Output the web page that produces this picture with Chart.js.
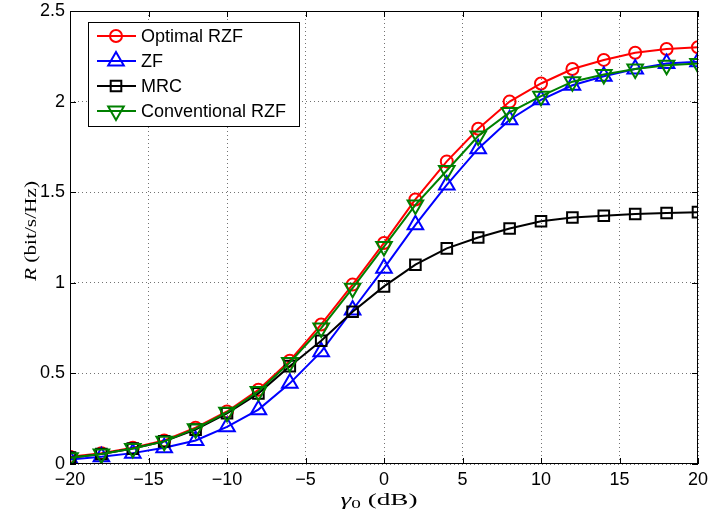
<!DOCTYPE html>
<html>
<head>
<meta charset="utf-8">
<script src="https://cdn.jsdelivr.net/npm/chart.js@4"></script>
<style>
  html, body { margin: 0; padding: 0; background: #fff; }
  #wrap { width: 709px; height: 516px; }
</style>
</head>
<body>
<div id="wrap"><canvas id="chart" width="709" height="516"></canvas></div>
<script>
const gamma = [-20, -18, -16, -14, -12, -10, -8, -6, -4, -2, 0, 2, 4, 6, 8, 10, 12, 14, 16, 18, 20];
const optimalRzf = [0.04, 0.06, 0.09, 0.13, 0.20, 0.29, 0.41, 0.57, 0.77, 0.99, 1.22, 1.46, 1.67, 1.85, 2.00, 2.10, 2.18, 2.23, 2.27, 2.29, 2.30];
const zf = [0.025, 0.04, 0.06, 0.09, 0.13, 0.205, 0.30, 0.445, 0.62, 0.85, 1.08, 1.32, 1.54, 1.74, 1.90, 2.01, 2.09, 2.14, 2.18, 2.21, 2.22];
const mrc = [0.035, 0.055, 0.085, 0.125, 0.19, 0.28, 0.39, 0.54, 0.68, 0.84, 0.98, 1.10, 1.19, 1.25, 1.30, 1.34, 1.36, 1.37, 1.38, 1.385, 1.39];
const convRzf = [0.035, 0.055, 0.085, 0.125, 0.195, 0.285, 0.40, 0.56, 0.75, 0.97, 1.20, 1.43, 1.62, 1.81, 1.94, 2.03, 2.11, 2.15, 2.18, 2.20, 2.21];

const seriesNames = ['Optimal RZF', 'ZF', 'MRC', 'Conventional RZF'];
const xTicks = [-20, -15, -10, -5, 0, 5, 10, 15, 20];
const yTicks = [0, 0.5, 1, 1.5, 2, 2.5];

const pts = (ys) => ys.map((v, i) => ({ x: gamma[i], y: v }));

const styles = [
  { color: '#ff0000', pointStyle: 'circle', radius: 6, rotation: 0, order: 4 },
  { color: '#0000ff', pointStyle: 'triangle', radius: 9, rotation: 0, order: 3 },
  { color: '#000000', pointStyle: 'rect', radius: 7.5, rotation: 0, order: 2 },
  { color: '#008000', pointStyle: 'triangle', radius: 9, rotation: 180, order: 1 }
];

const allSeries = [optimalRzf, zf, mrc, convRzf];

const datasets = allSeries.map((ys, i) => ({
  label: seriesNames[i],
  data: pts(ys),
  borderColor: styles[i].color,
  backgroundColor: 'rgba(0,0,0,0)',
  borderWidth: 2,
  pointStyle: styles[i].pointStyle,
  pointRadius: styles[i].radius,
  pointRotation: styles[i].rotation,
  pointBorderWidth: 2,
  pointBorderColor: styles[i].color,
  pointBackgroundColor: 'rgba(0,0,0,0)',
  tension: 0,
  order: styles[i].order
}));

const tickFont = { family: 'Liberation Sans', size: 18 };

// no extra room for label overhang, the layout padding decides the plot box
const noOverhang = (s) => {
  s.paddingTop = 0; s.paddingBottom = 0; s.paddingLeft = 0; s.paddingRight = 0;
};

// frame, inward ticks, axis titles and legend
const decor = {
  id: 'decor',
  afterDatasetsDraw(chart) {
    const { ctx, chartArea: a, scales: { x, y } } = chart;
    ctx.save();
    ctx.strokeStyle = '#000';
    ctx.lineWidth = 1;
    ctx.strokeRect(Math.round(a.left) + 0.5, Math.round(a.top) + 0.5, Math.round(a.right - a.left) - 1, Math.round(a.bottom - a.top) - 1);
    const t = 6;
    ctx.beginPath();
    xTicks.forEach(v => {
      const px = Math.round(x.getPixelForValue(v)) + 0.5;
      ctx.moveTo(px, a.bottom); ctx.lineTo(px, a.bottom - t);
      ctx.moveTo(px, a.top); ctx.lineTo(px, a.top + t);
    });
    yTicks.forEach(v => {
      const py = Math.round(y.getPixelForValue(v)) + 0.5;
      ctx.moveTo(a.left, py); ctx.lineTo(a.left + t, py);
      ctx.moveTo(a.right, py); ctx.lineTo(a.right - t, py);
    });
    ctx.stroke();
    ctx.restore();
  },
  afterDraw(chart) {
    const { ctx } = chart;
    ctx.save();
    ctx.fillStyle = '#000';
    ctx.textBaseline = 'alphabetic';

    // y title: R (bit/s/Hz)
    ctx.save();
    ctx.translate(36, 231);
    ctx.rotate(-Math.PI / 2);
    const fy = 17;
    ctx.font = 'italic ' + fy + 'px "Liberation Serif"';
    const wR = ctx.measureText('R').width;
    ctx.font = fy + 'px "Liberation Serif"';
    const wRest = ctx.measureText(' (bit/s/Hz)').width;
    const sy = 100 / (wR + wRest);
    ctx.scale(sy, 1);
    const y0 = -(wR + wRest) / 2;
    ctx.font = 'italic ' + fy + 'px "Liberation Serif"';
    ctx.fillText('R', y0, 0);
    ctx.font = fy + 'px "Liberation Serif"';
    ctx.fillText(' (bit/s/Hz)', y0 + wR, 0);
    ctx.restore();

    // x title: γ0 (dB)
    ctx.save();
    const fx = 17;
    ctx.font = 'italic ' + fx + 'px "Liberation Serif"';
    const wg = ctx.measureText('\u03b3').width;
    ctx.font = Math.round(fx * 0.7) + 'px "Liberation Serif"';
    const ws = ctx.measureText('0').width;
    ctx.font = fx + 'px "Liberation Serif"';
    const wd = ctx.measureText(' (dB)').width;
    const total = wg + ws + wd;
    const sx = 77 / total;
    ctx.translate(379, 505);
    ctx.scale(sx, 1);
    let cx = -total / 2;
    ctx.font = 'italic ' + fx + 'px "Liberation Serif"';
    ctx.fillText('\u03b3', cx, 0); cx += wg;
    ctx.font = Math.round(fx * 0.7) + 'px "Liberation Serif"';
    ctx.fillText('0', cx, 3); cx += ws;
    ctx.font = fx + 'px "Liberation Serif"';
    ctx.fillText(' (dB)', cx, 0);
    ctx.restore();

    // legend
    const bx = 88, by = 22, bw = 211, bh = 104;
    ctx.fillStyle = '#fff';
    ctx.fillRect(bx, by, bw, bh);
    ctx.strokeStyle = '#000';
    ctx.lineWidth = 1;
    ctx.strokeRect(bx + 0.5, by + 0.5, bw, bh);
    ctx.font = '18px "Liberation Sans"';
    ctx.textBaseline = 'middle';
    seriesNames.forEach((name, i) => {
      const ry = 36 + i * 25;
      const s = styles[i];
      ctx.strokeStyle = s.color;
      ctx.lineWidth = 2;
      ctx.beginPath();
      ctx.moveTo(97, ry); ctx.lineTo(136, ry);
      ctx.stroke();
      ctx.fillStyle = 'rgba(0,0,0,0)';
      Chart.helpers.drawPoint(ctx, {
        pointStyle: s.pointStyle, radius: s.radius, rotation: s.rotation, borderWidth: 2
      }, 116, ry);
      ctx.fillStyle = '#000';
      ctx.fillText(name, 141, ry + 1);
    });
    ctx.restore();
  }
};

new Chart(document.getElementById('chart'), {
  type: 'line',
  data: { datasets: datasets },
  options: {
    responsive: false,
    animation: false,
    devicePixelRatio: 1,
    layout: { padding: { top: 11, right: 10, left: 0, bottom: 0 } },
    plugins: { legend: { display: false }, tooltip: { enabled: false } },
    scales: {
      x: {
        type: 'linear',
        min: -20,
        max: 20,
        afterFit: (s) => { s.height = 52; noOverhang(s); },
        afterBuildTicks: (s) => { s.ticks = xTicks.map(v => ({ value: v })); },
        ticks: {
          font: tickFont,
          color: '#000',
          padding: 5,
          maxRotation: 0,
          autoSkip: false,
          callback: (v) => String(v).replace('-', '\u2212')
        },
        grid: { color: 'rgba(0,0,0,0.55)', lineWidth: 1, drawTicks: false },
        border: { display: false, dash: [1, 3] }
      },
      y: {
        min: 0,
        max: 2.5,
        afterFit: (s) => { s.width = 70; noOverhang(s); },
        afterBuildTicks: (s) => { s.ticks = yTicks.map(v => ({ value: v })); },
        ticks: {
          font: tickFont,
          color: '#000',
          padding: 5,
          autoSkip: false,
          callback: (v) => String(v)
        },
        grid: { color: 'rgba(0,0,0,0.55)', lineWidth: 1, drawTicks: false },
        border: { display: false, dash: [1, 3] }
      }
    }
  },
  plugins: [decor]
});
</script>
</body>
</html>
